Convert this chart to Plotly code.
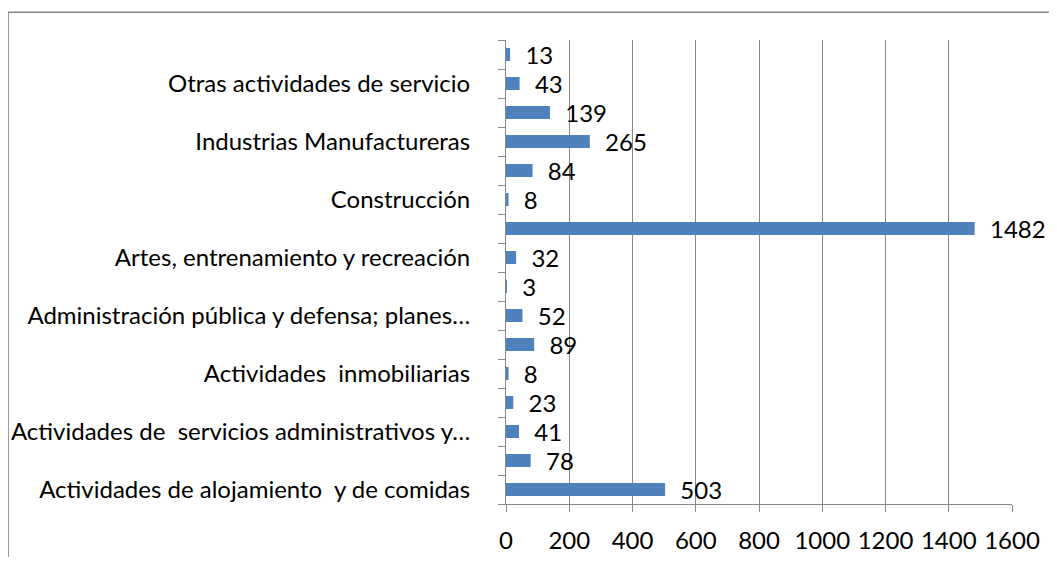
import plotly.graph_objects as go

categories = [
    "Actividades de alojamiento  y de comidas",
    "Actividades de atención de la salud humana y de asistencia social",
    "Actividades de  servicios administrativos y de apoyo",
    "Actividades financieras y de seguros",
    "Actividades  inmobiliarias",
    "Actividades profesionales, científicas y técnicas",
    "Administración pública y defensa; planes de seguridad social",
    "Agricultura, ganadería, silvicultura y pesca",
    "Artes, entrenamiento y recreación",
    "Comercio al por mayor y al por menor",
    "Construcción",
    "Enseñanza",
    "Industrias Manufactureras",
    "Información y comunicaciones",
    "Otras actividades de servicio",
    "Transporte y almacenamiento",
]
values = [503, 78, 41, 23, 8, 89, 52, 3, 32, 1482, 8, 84, 265, 139, 43, 13]
shown_labels = [
    "Actividades de alojamiento  y de comidas",
    "",
    "Actividades de  servicios administrativos y…",
    "",
    "Actividades  inmobiliarias",
    "",
    "Administración pública y defensa; planes…",
    "",
    "Artes, entrenamiento y recreación",
    "",
    "Construcción",
    "",
    "Industrias Manufactureras",
    "",
    "Otras actividades de servicio",
    "",
]
x_ticks = [0, 200, 400, 600, 800, 1000, 1200, 1400, 1600]

FONT = "Lato"
FS = 24
GRAY = "#888888"

idx = list(range(len(categories)))
label_idx = [i for i, t in enumerate(shown_labels) if t]
label_txt = [shown_labels[i] for i in label_idx]
boundaries = [i - 0.5 for i in range(len(categories) + 1)]

fig = go.Figure()
fig.add_trace(go.Bar(
    y=idx, x=values, orientation="h",
    marker=dict(color="#4F81BD", line=dict(width=0)),
    text=values, texttemplate="\u00a0\u00a0%{x}", textposition="outside",
    constraintext="none",
    textfont=dict(family=FONT, size=FS, color="#000000"),
    cliponaxis=False, hovertext=categories, hoverinfo="text+x",
))
# invisible trace on overlay axis for category boundary ticks
fig.add_trace(go.Scatter(y=[boundaries[0], boundaries[-1]], x=[0, 0], yaxis="y2",
                         mode="markers", marker=dict(opacity=0), hoverinfo="skip",
                         showlegend=False))

fig.update_layout(
    template="none",
    width=1041, height=549,
    margin=dict(l=498, r=37, t=32, b=53, autoexpand=False),
    paper_bgcolor="white", plot_bgcolor="white",
    showlegend=False, bargap=0.55,
    font=dict(family=FONT, size=FS, color="#000000"),
    xaxis=dict(range=[0, 1600], tickvals=x_ticks, showgrid=True, gridcolor=GRAY, gridwidth=1,
               zeroline=False, showline=True, linecolor=GRAY, linewidth=1,
               ticks="outside", ticklen=7, tickcolor=GRAY,
               tickwidth=1, automargin=False,
               tickfont=dict(family=FONT, size=FS, color="#000000"), ticklabelstandoff=8,
               fixedrange=True),
    yaxis=dict(range=[boundaries[0], boundaries[-1]], tickvals=label_idx, ticktext=label_txt,
               showgrid=False, zeroline=False, showline=True, linecolor=GRAY, linewidth=1,
               ticks="", automargin=False,
               tickfont=dict(family=FONT, size=FS, color="#000000"),
               ticklabelstandoff=30, fixedrange=True),
    yaxis2=dict(range=[boundaries[0], boundaries[-1]], overlaying="y", side="left",
                tickvals=boundaries, showticklabels=False, ticks="outside", ticklen=7,
                tickwidth=1, automargin=False,
                tickcolor=GRAY, showgrid=False, zeroline=False, showline=False,
                fixedrange=True),
    shapes=[dict(type="rect", xref="paper", yref="paper",
                 x0=-0.984, x1=1.2, y0=-0.2, y1=1.06,
                 line=dict(color=GRAY, width=1.5), layer="below")],
)

fig.write_html("out.html")
